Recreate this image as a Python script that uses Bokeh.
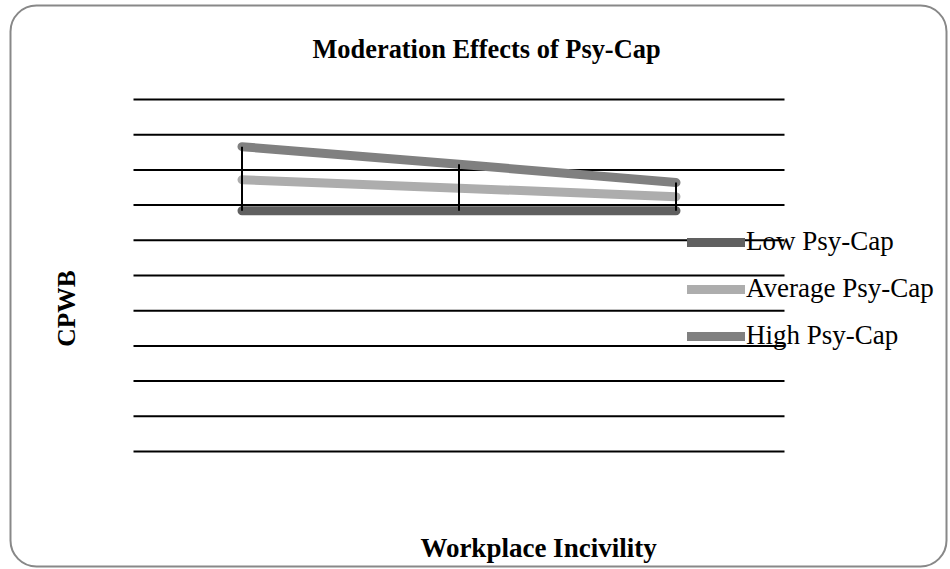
import math
from bokeh.plotting import figure
from bokeh.models import Label, Legend, LegendItem, Range1d, BoxAnnotation
from bokeh.embed import file_html
from bokeh.resources import INLINE

# ---- data ----
levels = ["Low WI", "Mean WI", "High WI"]
low_psycap = [3.42, 3.42, 3.42]
avg_psycap = [3.86, 3.74, 3.62]
high_psycap = [4.33, 4.08, 3.82]
series_names = ["Low Psy-Cap", "Average Psy-Cap", "High Psy-Cap"]
y_ticks = [0, 0.5, 1, 1.5, 2, 2.5, 3, 3.5, 4, 4.5, 5]

title_text = "Moderation Effects of Psy-Cap"
x_title = "Workplace Incivility"
y_title = "CPWB"

FONT = "Liberation Serif"

# ---- layout (pixels) ----
W, H = 949, 568
PX_LEFT_CAT = 241.5      # pixel of first category
PX_PER_CAT = 217.0
PX_Y0 = 451.0            # pixel of y = 0
PX_PER_Y = 70.4

def sx(px):
    return (px - PX_LEFT_CAT) / PX_PER_CAT

def sy(py):
    return (PX_Y0 - py) / PX_PER_Y

xpos = list(range(len(levels)))

p = figure(x_range=Range1d(sx(0), sx(W)), y_range=Range1d(sy(H), sy(0)),
           width=W, height=H, output_backend="svg", toolbar_location=None,
           min_border=0)
p.outline_line_color = None
p.background_fill_color = "white"
p.border_fill_color = "white"
p.xaxis.visible = False
p.yaxis.visible = False
p.xgrid.visible = False
p.ygrid.visible = False

# outer rounded frame
p.add_layout(BoxAnnotation(left=sx(10), right=sx(946), top=sy(5), bottom=sy(566),
                           fill_color=None, line_color="#888888", line_alpha=1.0,
                           line_width=2, border_radius=26, level="underlay"))

# horizontal grid lines at the y ticks spanning the category band
n = len(y_ticks)
p.segment(x0=[xpos[0] - 0.5] * n, x1=[xpos[-1] + 0.5] * n, y0=y_ticks, y1=y_ticks,
          line_color="black", line_width=2)

r_low = p.line(xpos, low_psycap, line_color="#606060", line_width=9, line_cap="round")
r_avg = p.line(xpos, avg_psycap, line_color="#adadad", line_width=9, line_cap="round")
r_high = p.line(xpos, high_psycap, line_color="#808080", line_width=9, line_cap="round")

p.segment(x0=xpos, y0=low_psycap, x1=xpos, y1=high_psycap,
          line_color="black", line_width=2)

legend = Legend(items=[LegendItem(label=series_names[0], renderers=[r_low]),
                       LegendItem(label=series_names[1], renderers=[r_avg]),
                       LegendItem(label=series_names[2], renderers=[r_high])],
                location=(687, H - 351), orientation="vertical",
                glyph_width=58, glyph_height=30, label_height=30,
                label_standoff=1, spacing=16, padding=0, margin=0,
                border_line_color=None, background_fill_alpha=0,
                label_text_font=FONT, label_text_font_size="27px",
                label_text_color="black")
p.add_layout(legend)

p.add_layout(Label(x=sx(486), y=sy(48), text=title_text,
                   text_font=FONT, text_font_size="26.4px", text_font_style="bold",
                   text_align="center", text_baseline="alphabetic", text_color="black"))
p.add_layout(Label(x=sx(538), y=sy(547), text=x_title,
                   text_font=FONT, text_font_size="27px", text_font_style="bold",
                   text_align="center", text_baseline="alphabetic", text_color="black"))
p.add_layout(Label(x=sx(66), y=sy(308), text=y_title, angle=math.pi / 2,
                   text_font=FONT, text_font_size="25.5px", text_font_style="bold",
                   text_align="center", text_baseline="middle", text_color="black"))

open("out.html", "w").write(file_html(p, INLINE))
